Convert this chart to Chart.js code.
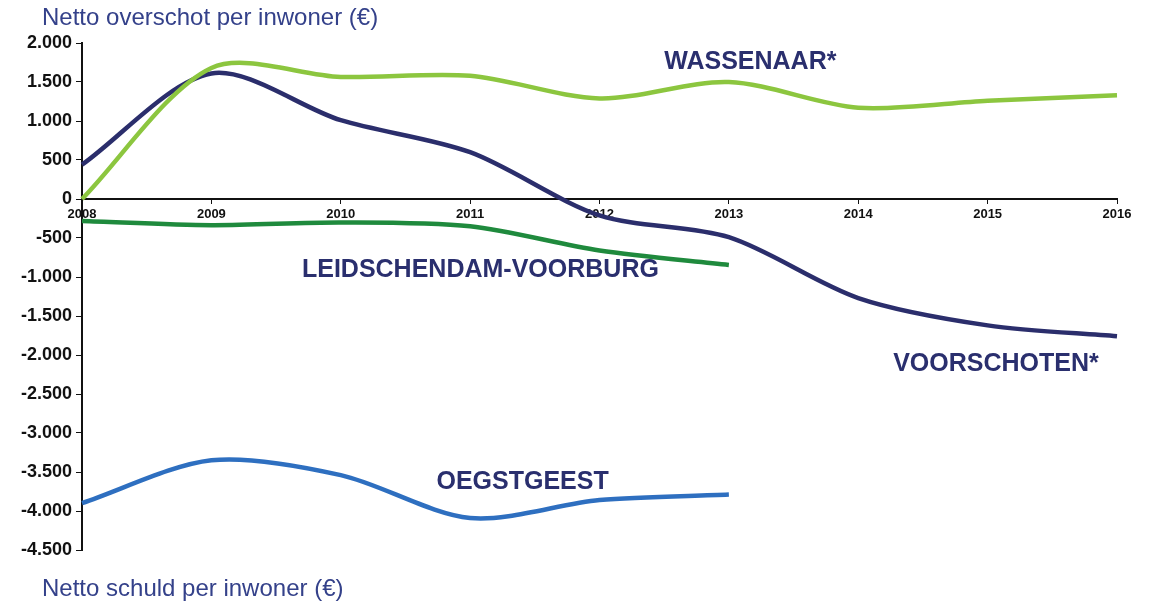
<!DOCTYPE html>
<html>
<head>
<meta charset="utf-8">
<script src="https://cdn.jsdelivr.net/npm/chart.js@4/dist/chart.umd.min.js"></script>
<style>
  html, body { margin: 0; padding: 0; background: #fff; }
  #wrap { width: 1151px; height: 604px; position: relative; }
</style>
</head>
<body>
<div id="wrap"><canvas id="chart"></canvas></div>
<script>
// Jaren op de x-as
const years = ['2008', '2009', '2010', '2011', '2012', '2013', '2014', '2015', '2016'];

// Netto overschot / schuld per inwoner (€)
const wassenaar = [0, 1680, 1565, 1580, 1290, 1500, 1170, 1260, 1330];
const voorschoten = [440, 1610, 1010, 600, -210, -490, -1270, -1620, -1760];
const leidschendamVoorburg = [-282, -335, -300, -350, -660, -845, null, null, null];
const oegstgeest = [-3900, -3350, -3540, -4090, -3860, -3790, null, null, null];

// Y-as schaal
const yMin = -4500;
const yMax = 2000;
const yStep = 500;

const FONT = 'Arial, "Liberation Sans", sans-serif';
const NAVY = '#2a2f6e';

// Teksten bij de lijnen (positie in data-eenheden)
const seriesLabels = [
    { text: 'WASSENAAR*', x: 4.5, y: 1750 },
    { text: 'LEIDSCHENDAM-VOORBURG', x: 1.7, y: -910 },
    { text: 'VOORSCHOTEN*', x: 6.27, y: -2115 },
    { text: 'OEGSTGEEST', x: 2.74, y: -3628 }
];

// Getal met punt als duizendtalscheiding
function formatNl(value) {
    const sign = value < 0 ? '-' : '';
    const abs = Math.abs(value).toString();
    return sign + abs.replace(/\B(?=(\d{3})+(?!\d))/g, '.');
}

const textPlugin = {
    id: 'textPlugin',
    afterDraw(chart) {
        const ctx = chart.ctx;
        const x = chart.scales.x;
        const y = chart.scales.y;
        ctx.save();

        // Titels boven en onder
        ctx.fillStyle = '#34418a';
        ctx.font = '24px ' + FONT;
        ctx.textAlign = 'left';
        ctx.textBaseline = 'middle';
        ctx.fillText('Netto overschot per inwoner (€)', 42, 18);
        ctx.fillText('Netto schuld per inwoner (€)', 42, 589);

        // Namen van de gemeenten
        ctx.fillStyle = NAVY;
        ctx.font = 'bold 25px ' + FONT;
        seriesLabels.forEach(label => {
            ctx.fillText(label.text, x.getPixelForValue(label.x), y.getPixelForValue(label.y));
        });
        ctx.restore();
    }
};

new Chart(document.getElementById('chart'), {
    type: 'line',
    data: {
        labels: years,
        datasets: [
            {
                label: 'Wassenaar*',
                data: wassenaar,
                borderColor: '#8cc63f',
                borderWidth: 4.5
            },
            {
                label: 'Voorschoten*',
                data: voorschoten,
                borderColor: '#2b2e6c',
                borderWidth: 4.5
            },
            {
                label: 'Leidschendam-Voorburg',
                data: leidschendamVoorburg,
                borderColor: '#1f8a3d',
                borderWidth: 4.5
            },
            {
                label: 'Oegstgeest',
                data: oegstgeest,
                borderColor: '#2e6fc0',
                borderWidth: 4.5
            }
        ]
    },
    options: {
        responsive: true,
        maintainAspectRatio: false,
        animation: false,
        layout: {
            padding: { left: 0, top: 43, right: 34, bottom: 54 }
        },
        elements: {
            point: { radius: 0 },
            line: { tension: 0.3, fill: false }
        },
        plugins: {
            legend: { display: false },
            tooltip: { enabled: false }
        },
        scales: {
            x: {
                type: 'category',
                position: { y: 0 },
                offset: false,
                border: { display: true, color: '#111', width: 2 },
                grid: {
                    drawOnChartArea: false,
                    drawTicks: true,
                    tickLength: 4,
                    color: '#111'
                },
                ticks: {
                    autoSkip: false,
                    maxRotation: 0,
                    padding: 4,
                    color: '#111',
                    font: { family: FONT, size: 13, weight: 'bold' }
                }
            },
            y: {
                min: yMin,
                max: yMax,
                border: { display: true, color: '#111', width: 2 },
                grid: {
                    drawOnChartArea: false,
                    drawTicks: true,
                    tickLength: 6,
                    color: '#111'
                },
                ticks: {
                    stepSize: yStep,
                    padding: 4,
                    color: '#111',
                    font: { family: FONT, size: 18, weight: 'bold' },
                    callback: value => formatNl(value)
                },
                afterFit(scale) {
                    scale.width = 82;
                }
            }
        }
    },
    plugins: [textPlugin]
});
</script>
</body>
</html>
